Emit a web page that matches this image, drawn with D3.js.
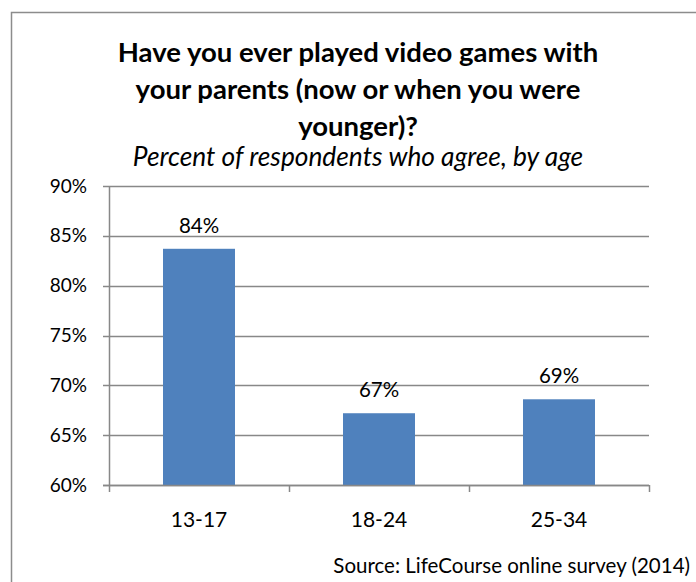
<!DOCTYPE html>
<html>
<head>
<meta charset="utf-8">
<script src="https://cdn.jsdelivr.net/npm/d3@7"></script>
<style>
  html, body { margin: 0; padding: 0; background: #fff; }
  svg { display: block; }
  text { font-family: Lato, "Open Sans", sans-serif; fill: #000; }
</style>
</head>
<body>
<svg id="chart" width="696" height="582"></svg>
<script>
// Survey results: share who played video games with their parents, by age group
const categories = ["13-17", "18-24", "25-34"];
const values = [83.7, 67.2, 68.6];
const yTicks = [60, 65, 70, 75, 80, 85, 90];
const titleLines = ["Have you ever played video games with", "your parents (now or when you were", "younger)?"];
const subtitle = "Percent of respondents who agree, by age";
const source = "Source: LifeCourse online survey (2014)";

const svg = d3.select("#chart");
const margin = { left: 109, right: 47, top: 186, bottom: 97 };
const W = 696, H = 582;
const plotW = W - margin.left - margin.right;
const plotH = H - margin.top - margin.bottom;

// outer frame
svg.append("rect")
  .attr("x", 11.5).attr("y", 12.5)
  .attr("width", 700).attr("height", 600)
  .attr("fill", "none").attr("stroke", "#8c8c8c").attr("stroke-width", 1.5);

const x = d3.scaleBand().domain(categories).range([0, plotW]).paddingInner(0.6).paddingOuter(0.3);
const y = d3.scaleLinear().domain([60, 90]).range([plotH, 0]);

const g = svg.append("g").attr("transform", `translate(${margin.left},${margin.top})`);

// horizontal gridlines
g.append("g").selectAll("line").data(yTicks).join("line")
  .attr("x1", -6).attr("x2", plotW)
  .attr("y1", d => Math.round(y(d)) + 0.5).attr("y2", d => Math.round(y(d)) + 0.5)
  .attr("stroke", "#888").attr("stroke-width", 1.5);

// y axis labels
const yAxis = d3.axisLeft(y).tickValues(yTicks).tickFormat(d => d + "%").tickSize(0).tickPadding(22);
const ya = g.append("g").call(yAxis);
ya.select(".domain").remove();
ya.selectAll("text").style("font-size", "19px").style("font-family", "Lato, sans-serif").attr("fill", "#000");

// y axis line
g.append("line").attr("x1", 0.5).attr("x2", 0.5).attr("y1", 0).attr("y2", plotH)
  .attr("stroke", "#888").attr("stroke-width", 1.5);

// bars
g.append("g").selectAll("rect").data(categories).join("rect")
  .attr("x", d => x(d))
  .attr("width", x.bandwidth())
  .attr("y", (d, i) => y(values[i]))
  .attr("height", (d, i) => plotH - y(values[i]))
  .attr("fill", "#4f81bd");

// value labels
g.append("g").selectAll("text").data(categories).join("text")
  .attr("x", d => x(d) + x.bandwidth() / 2)
  .attr("y", (d, i) => y(values[i]) - 16)
  .attr("text-anchor", "middle")
  .style("font-size", "20.5px")
  .text((d, i) => d3.format(".0f")(values[i]) + "%");

// x axis line and boundary ticks
const step = plotW / categories.length;
g.append("line").attr("x1", -6).attr("x2", plotW).attr("y1", plotH + 0.5).attr("y2", plotH + 0.5)
  .attr("stroke", "#888").attr("stroke-width", 1.5);
g.append("g").selectAll("line").data(d3.range(categories.length + 1)).join("line")
  .attr("x1", i => i * step + 0.5).attr("x2", i => i * step + 0.5)
  .attr("y1", plotH).attr("y2", plotH + 7)
  .attr("stroke", "#888").attr("stroke-width", 1.5);

// category labels
g.append("g").selectAll("text").data(categories).join("text")
  .attr("x", d => x(d) + x.bandwidth() / 2)
  .attr("y", plotH + 42)
  .attr("text-anchor", "middle")
  .style("font-size", "21px")
  .text(d => d);

// title and subtitle
svg.append("g").selectAll("text").data(titleLines).join("text")
  .attr("x", 358).attr("y", (d, i) => 62 + i * 37)
  .attr("text-anchor", "middle")
  .style("font-size", "27.5px").style("font-weight", "bold")
  .text(d => d);

svg.append("text")
  .attr("x", 358).attr("y", 166)
  .attr("text-anchor", "middle")
  .style("font-size", "26.3px").style("font-style", "italic")
  .text(subtitle);

svg.append("text")
  .attr("x", 690).attr("y", 573)
  .attr("text-anchor", "end")
  .style("font-size", "20.5px")
  .text(source);
</script>
</body>
</html>
